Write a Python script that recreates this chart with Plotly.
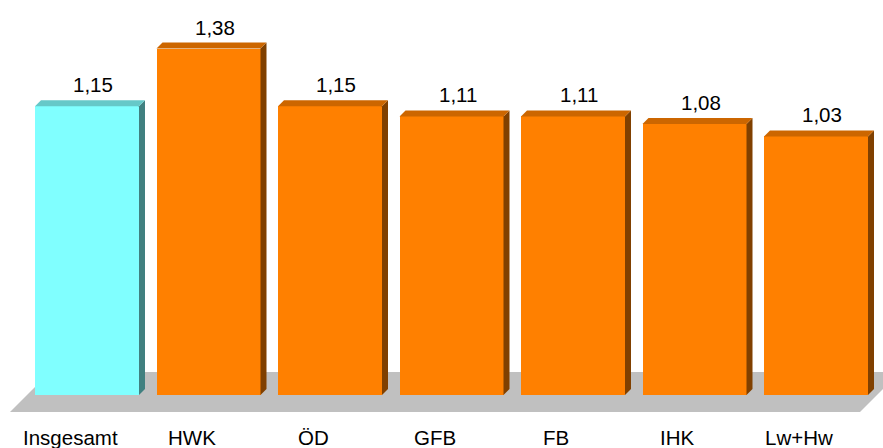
import plotly.graph_objects as go

categories = ["Insgesamt", "HWK", "ÖD", "GFB", "FB", "IHK", "Lw+Hw"]
values = [1.15, 1.38, 1.15, 1.11, 1.11, 1.08, 1.03]
value_labels = ["1,15", "1,38", "1,15", "1,11", "1,11", "1,08", "1,03"]

W, H = 883, 448
# pixel mapping helpers (plot area = full page)
PX_X0, PX_DX = 87.0, 121.5      # pixel of x=0, pixels per category
PX_Y0, PX_DY = 395.0, 251.0     # pixel of y=0, pixels per unit
xr = [(0 - PX_X0) / PX_DX, (W - PX_X0) / PX_DX]
yr = [(PX_Y0 - H) / PX_DY, PX_Y0 / PX_DY]

bw = 104 / PX_DX          # bar width
ddx = 6 / PX_DX           # depth offset x
ddy = 6 / PX_DY           # depth offset y

front_cols = ["#80FFFF"] + ["#FF8000"] * 6
top_cols = ["#66C8C8"] + ["#CC6600"] * 6
side_cols = ["#408080"] + ["#804000"] * 6

xs = list(range(len(categories)))
fig = go.Figure()

fig.add_trace(go.Bar(x=xs, y=values, width=bw, marker=dict(color=front_cols, line=dict(width=0)),
                     hoverinfo="skip", showlegend=False))

for i, v in enumerate(values):
    xl, xrr = i - bw / 2, i + bw / 2
    # side face
    fig.add_trace(go.Scatter(x=[xrr, xrr + ddx, xrr + ddx, xrr, xrr],
                             y=[0, ddy, v + ddy, v, 0], fill="toself",
                             fillcolor=side_cols[i], line=dict(width=0), mode="lines",
                             hoverinfo="skip", showlegend=False))
    # top face
    fig.add_trace(go.Scatter(x=[xl, xl + ddx, xrr + ddx, xrr, xl],
                             y=[v, v + ddy, v + ddy, v, v], fill="toself",
                             fillcolor=top_cols[i], line=dict(width=0), mode="lines",
                             hoverinfo="skip", showlegend=False))
    fig.add_annotation(x=i + 6 / PX_DX, y=v + ddy, text=value_labels[i], showarrow=False,
                       xref="x", yref="y", yanchor="bottom", yshift=2,
                       font=dict(size=20.5, color="#000000"))
    fig.add_annotation(x=i - 17 / PX_DX, y=(PX_Y0 - 437.5) / PX_DY, text=categories[i], showarrow=False,
                       xref="x", yref="y", yanchor="middle",
                       font=dict(size=20.5, color="#000000"))

# floor
fy_front = (PX_Y0 - 412) / PX_DY
fy_back = (PX_Y0 - 372) / PX_DY
fx_lf = (10 - PX_X0) / PX_DX
fx_lb = (50 - PX_X0) / PX_DX
fx_rf = (860 - PX_X0) / PX_DX
fx_rb = (900 - PX_X0) / PX_DX
fig.add_shape(type="path", xref="x", yref="y", layer="below",
              path=f"M {fx_lf},{fy_front} L {fx_lb},{fy_back} L {fx_rb},{fy_back} L {fx_rf},{fy_front} Z",
              fillcolor="#C0C0C0", line=dict(width=0))

fig.update_layout(
    width=W, height=H, margin=dict(l=0, r=0, t=0, b=0),
    paper_bgcolor="white", plot_bgcolor="white",
    font=dict(family="Liberation Sans, Arial, sans-serif"),
    xaxis=dict(range=xr, visible=False, fixedrange=True),
    yaxis=dict(range=yr, visible=False, fixedrange=True),
    bargap=0,
)
fig.write_html("out.html", config={"displayModeBar": False},
               post_script="document.body.style.margin='0';document.body.style.overflow='hidden';")
